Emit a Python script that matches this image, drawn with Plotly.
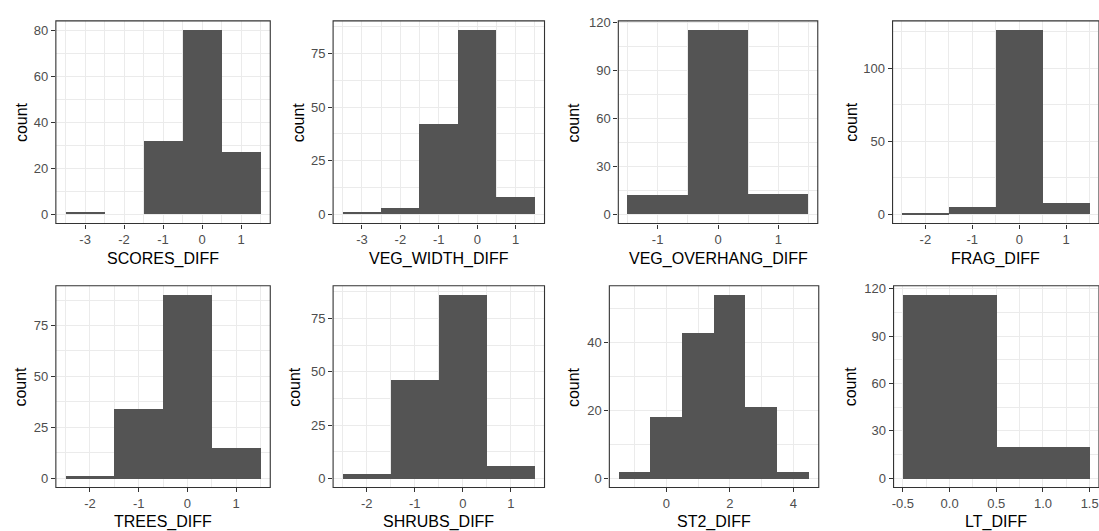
import plotly.graph_objects as go

W, H = 1099, 531

# ---------------- data (histograms, binwidth 1) ----------------
PANEL_NAMES = ["SCORES_DIFF", "VEG_WIDTH_DIFF", "VEG_OVERHANG_DIFF", "FRAG_DIFF",
               "TREES_DIFF", "SHRUBS_DIFF", "ST2_DIFF", "LT_DIFF"]

SCORES_BINS = [-3, -2, -1, 0, 1]
SCORES_COUNTS = [1, 0, 32, 80, 27]

VEG_WIDTH_BINS = [-3, -2, -1, 0, 1]
VEG_WIDTH_COUNTS = [1, 3, 42, 86, 8]

VEG_OVERHANG_BINS = [-1, 0, 1]
VEG_OVERHANG_COUNTS = [12, 115, 13]

FRAG_BINS = [-2, -1, 0, 1]
FRAG_COUNTS = [1, 5, 126, 8]

TREES_BINS = [-2, -1, 0, 1]
TREES_COUNTS = [1, 34, 90, 15]

SHRUBS_BINS = [-2, -1, 0, 1]
SHRUBS_COUNTS = [2, 46, 86, 6]

ST2_BINS = [-1, 0, 1, 2, 3, 4]
ST2_COUNTS = [2, 18, 43, 54, 21, 2]

LT_BINS = [0, 1]
LT_COUNTS = [116, 20]

# tick values / labels
SCORES_XTICKS = [-3, -2, -1, 0, 1]
SCORES_XLABELS = ["-3", "-2", "-1", "0", "1"]
SCORES_YTICKS = [0, 20, 40, 60, 80]

VEG_WIDTH_XTICKS = [-3, -2, -1, 0, 1]
VEG_WIDTH_XLABELS = ["-3", "-2", "-1", "0", "1"]
VEG_WIDTH_YTICKS = [0, 25, 50, 75]

VEG_OVERHANG_XTICKS = [-1, 0, 1]
VEG_OVERHANG_XLABELS = ["-1", "0", "1"]
VEG_OVERHANG_YTICKS = [0, 30, 60, 90, 120]

FRAG_XTICKS = [-2, -1, 0, 1]
FRAG_XLABELS = ["-2", "-1", "0", "1"]
FRAG_YTICKS = [0, 50, 100]

TREES_XTICKS = [-2, -1, 0, 1]
TREES_XLABELS = ["-2", "-1", "0", "1"]
TREES_YTICKS = [0, 25, 50, 75]

SHRUBS_XTICKS = [-2, -1, 0, 1]
SHRUBS_XLABELS = ["-2", "-1", "0", "1"]
SHRUBS_YTICKS = [0, 25, 50, 75]

ST2_XTICKS = [0, 2, 4]
ST2_XLABELS = ["0", "2", "4"]
ST2_YTICKS = [0, 20, 40]

LT_XTICKS = [-0.5, 0.0, 0.5, 1.0, 1.5]
LT_XLABELS = ["-0.5", "0.0", "0.5", "1.0", "1.5"]
LT_YTICKS = [0, 30, 60, 90, 120]

# ---------------- layout geometry (pixels) ----------------
panels = [
    # bins, counts, xticks, xlabels, yticks, (left, right, top, bottom), ytitle_x
    (SCORES_BINS, SCORES_COUNTS, SCORES_XTICKS, SCORES_XLABELS, SCORES_YTICKS, (54, 269, 15, 220), 19),
    (VEG_WIDTH_BINS, VEG_WIDTH_COUNTS, VEG_WIDTH_XTICKS, VEG_WIDTH_XLABELS, VEG_WIDTH_YTICKS, (332, 544, 15, 220), 297),
    (VEG_OVERHANG_BINS, VEG_OVERHANG_COUNTS, VEG_OVERHANG_XTICKS, VEG_OVERHANG_XLABELS, VEG_OVERHANG_YTICKS, (618, 818, 15, 220), 573),
    (FRAG_BINS, FRAG_COUNTS, FRAG_XTICKS, FRAG_XLABELS, FRAG_YTICKS, (893, 1100, 15, 220), 851),
    (TREES_BINS, TREES_COUNTS, TREES_XTICKS, TREES_XLABELS, TREES_YTICKS, (54, 269, 283, 487), 19),
    (SHRUBS_BINS, SHRUBS_COUNTS, SHRUBS_XTICKS, SHRUBS_XLABELS, SHRUBS_YTICKS, (332, 544, 283, 487), 293),
    (ST2_BINS, ST2_COUNTS, ST2_XTICKS, ST2_XLABELS, ST2_YTICKS, (609, 819, 283, 487), 573),
    (LT_BINS, LT_COUNTS, LT_XTICKS, LT_XLABELS, LT_YTICKS, (894, 1100, 283, 487), 851),
]

FONT = "Liberation Sans, Arial, sans-serif"
BAR_COLOR = "#545454"
GRID = "#EBEBEB"
BORDER = "#333333"
TICKCOL = "#4D4D4D"

fig = go.Figure()
shapes = []
annotations = []

for i, (bins, counts, xt, xl, yt, (l, r, t, b), ytx) in enumerate(panels):
    k = "" if i == 0 else str(i + 1)
    # ggplot-like expanded ranges
    lo, hi = min(bins) - 0.5, max(bins) + 0.5
    span = hi - lo
    xr = [lo - 0.05 * span, hi + 0.05 * span]
    ymax = max(counts)
    yr = [-0.05 * ymax, 1.05 * ymax]
    # clip panel to figure width, adjusting range so scale stays the same
    r_eff = min(r, W)
    xr_eff = [xr[0], xr[0] + (xr[1] - xr[0]) * (r_eff - l) / (r - l)]

    fig.add_trace(go.Bar(x=bins, y=counts, width=1, marker=dict(color=BAR_COLOR, line=dict(width=0)),
                         xaxis="x" + k, yaxis="y" + k, showlegend=False, hoverinfo="skip"))

    xstep = xt[1] - xt[0]
    ystep = yt[1] - yt[0]
    fig.layout["xaxis" + k] = dict(
        domain=[l / W, r_eff / W], anchor="y" + k, range=xr_eff,
        tickmode="array", tickvals=xt, ticktext=xl,
        ticks="outside", ticklen=4, tickwidth=1, tickcolor=BORDER,
        tickfont=dict(family=FONT, size=13, color=TICKCOL),
        ticklabeloverflow="allow",
        showgrid=True, gridcolor=GRID, gridwidth=1.1,
        minor=dict(tick0=xt[0], dtick=xstep / 2, showgrid=True, gridcolor=GRID, gridwidth=0.6, ticks=""),
        showline=False, zeroline=False, fixedrange=True,
    )
    fig.layout["yaxis" + k] = dict(
        domain=[1 - b / H, 1 - t / H], anchor="x" + k, range=yr,
        tickmode="array", tickvals=yt, ticktext=[str(v) for v in yt],
        ticks="outside", ticklen=4, tickwidth=1, tickcolor=BORDER,
        tickfont=dict(family=FONT, size=13, color=TICKCOL),
        ticklabeloverflow="allow",
        showgrid=True, gridcolor=GRID, gridwidth=1.1,
        minor=dict(tick0=yt[0], dtick=ystep / 2, showgrid=True, gridcolor=GRID, gridwidth=0.6, ticks=""),
        showline=False, zeroline=False, fixedrange=True,
    )
    # panel border
    shapes.append(dict(type="rect", xref="paper", yref="paper",
                       x0=l / W, x1=r / W, y0=1 - b / H, y1=1 - t / H,
                       line=dict(color=BORDER, width=1.1), fillcolor="rgba(0,0,0,0)", layer="above"))
    # axis titles
    xtitle_y = 256 if b < 300 else 522
    annotations.append(dict(text=PANEL_NAMES[i], xref="paper", yref="paper",
                            x=(l + r) / 2 / W, y=1 - xtitle_y / H, xanchor="center", yanchor="middle",
                            showarrow=False, font=dict(family=FONT, size=16, color="black")))
    annotations.append(dict(text="count", xref="paper", yref="paper", textangle=-90,
                            x=ytx / W, y=1 - (t + b) / 2 / H, xanchor="center", yanchor="middle",
                            showarrow=False, font=dict(family=FONT, size=16, color="black")))

fig.update_layout(
    width=W, height=H, margin=dict(l=0, r=0, t=0, b=0),
    paper_bgcolor="white", plot_bgcolor="white",
    bargap=0, shapes=shapes, annotations=annotations,
    font=dict(family=FONT),
)

fig.write_html("out.html", config={"displayModeBar": False})
